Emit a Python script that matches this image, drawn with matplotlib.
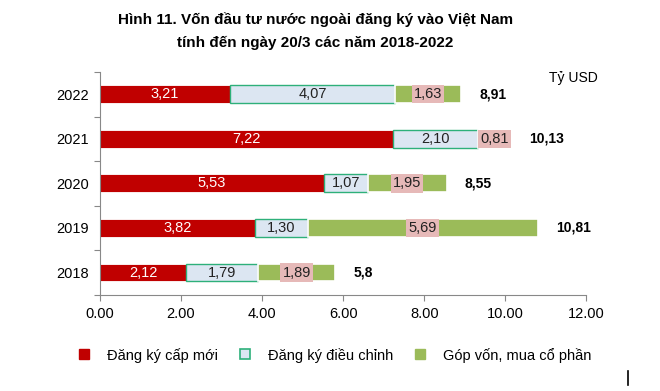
import matplotlib
matplotlib.use("Agg")
import matplotlib.pyplot as plt
from matplotlib.lines import Line2D
import numpy as np

plt.rcParams['font.family'] = ['Liberation Sans', 'DejaVu Sans']

years = ["2018", "2019", "2020", "2021", "2022"]
new_reg = [2.12, 3.82, 5.53, 7.22, 3.21]
adjusted = [1.79, 1.30, 1.07, 2.10, 4.07]
capital = [1.89, 5.69, 1.95, 0.81, 1.63]
totals = ["5,8", "10,81", "8,55", "10,13", "8,91"]
xticks = [0, 2, 4, 6, 8, 10, 12]
legend_labels = ["Đăng ký cấp mới", "Đăng ký điều chỉnh", "Góp vốn, mua cổ phần"]
title = "Hình 11. Vốn đầu tư nước ngoài đăng ký vào Việt Nam\ntính đến ngày 20/3 các năm 2018-2022"
unit = "Tỷ USD"

RED = "#C00000"
BLUE = "#DCE6F2"
BLUE_EDGE = "#2EB07A"
GREEN = "#9BBB59"
PINK = "#E6B9B8"

fig = plt.figure(figsize=(6.6, 3.91), dpi=100)
ax = fig.add_axes([0.1515, 0.246, 0.737, 0.57])

y = np.arange(len(years))
h = 0.4
fmt = lambda v: f"{v:.2f}".replace(".", ",")

ax.barh(y, new_reg, height=h, color=RED, edgecolor="white", linewidth=0.6)
left2 = np.array(new_reg)
ax.barh(y, adjusted, left=left2, height=h, color=BLUE, edgecolor=BLUE_EDGE, linewidth=1.0)
left3 = left2 + np.array(adjusted)
ax.barh(y, capital, left=left3, height=h, color=GREEN, edgecolor="white", linewidth=1.2)

fs = 10.5
for i in range(len(years)):
    ax.text(new_reg[i] / 2, y[i], fmt(new_reg[i]), ha="center", va="center", color="white", fontsize=fs)
    ax.text(left2[i] + adjusted[i] / 2, y[i], fmt(adjusted[i]), ha="center", va="center", color="#222222", fontsize=fs)
    ax.text(left3[i] + capital[i] / 2, y[i], fmt(capital[i]), ha="center", va="center", color="#222222", fontsize=fs,
            bbox=dict(boxstyle="square,pad=0.15", facecolor=PINK, edgecolor="none"))
    ax.text(left3[i] + capital[i] + 0.45, y[i], totals[i], ha="left", va="center", color="black",
            fontsize=10, fontweight="bold")

ax.set_xlim(0, 12)
ax.set_ylim(-0.5, len(years) - 0.5)
ax.set_xticks(xticks)
ax.set_xticklabels([f"{v:.2f}" for v in xticks], fontsize=10.5)
ax.set_yticks(y)
ax.set_yticklabels(years, fontsize=10.5)
ax.set_yticks(np.arange(-0.5, len(years), 1), minor=True)
ax.tick_params(axis="y", which="major", length=0, pad=8)
ax.tick_params(axis="y", which="minor", length=4, color="#888888", width=0.8)
ax.tick_params(axis="x", which="major", length=4, color="#888888", width=0.8, pad=5)
for s in ["top", "right"]:
    ax.spines[s].set_visible(False)
for s in ["left", "bottom"]:
    ax.spines[s].set_color("#888888")
    ax.spines[s].set_linewidth(0.8)

fig.text(0.478, 0.968, title, ha="center", va="top", fontsize=11, fontweight="bold", linespacing=1.75)
fig.text(0.905, 0.80, unit, ha="right", va="center", fontsize=10)

handles = [
    Line2D([], [], marker="s", linestyle="none", markersize=7, markerfacecolor=RED, markeredgecolor=RED),
    Line2D([], [], marker="s", linestyle="none", markersize=7, markerfacecolor=BLUE, markeredgecolor=BLUE_EDGE, markeredgewidth=1.2),
    Line2D([], [], marker="s", linestyle="none", markersize=7, markerfacecolor=GREEN, markeredgecolor=GREEN),
]
fig.legend(handles, legend_labels, loc="center", bbox_to_anchor=(0.505, 0.092), ncol=3, frameon=False,
           fontsize=10.5, handletextpad=1.0, columnspacing=1.2, handlelength=1.2)

fig.add_artist(Line2D([0.952, 0.952], [0.015, 0.05], color="black", linewidth=1.2, transform=fig.transFigure))

fig.savefig("out.png", dpi=100, facecolor="white")
